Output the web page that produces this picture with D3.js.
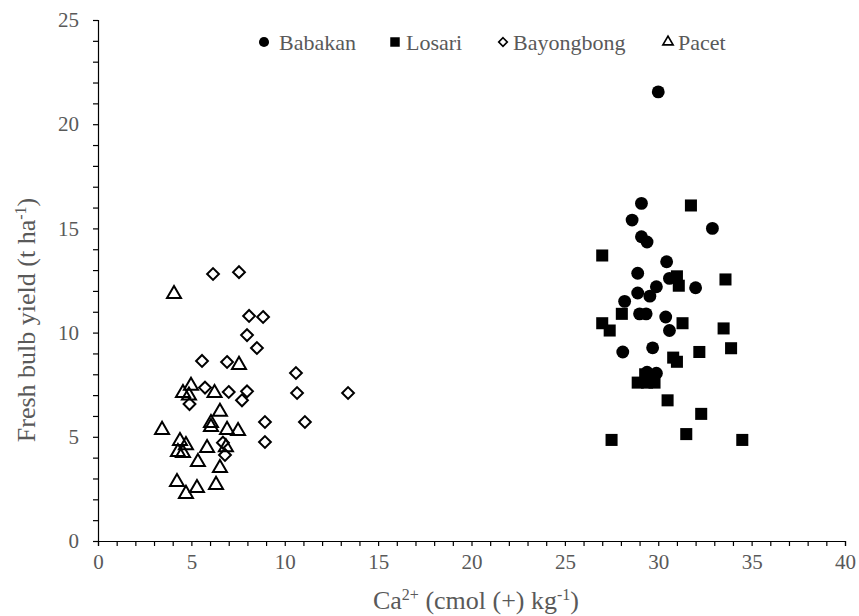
<!DOCTYPE html>
<html>
<head>
<meta charset="utf-8">
<script src="https://cdn.jsdelivr.net/npm/d3@7/dist/d3.min.js"></script>
<style>
  html, body { margin: 0; padding: 0; background: #fff; }
  svg { display: block; }
  svg text { font-family: "Liberation Serif", "Times New Roman", serif; }
</style>
</head>
<body>
<svg id="chart" width="859" height="616"></svg>
<script>
// Exchangeable calcium (cmol(+)/kg) vs fresh bulb yield (t/ha) by site
const babakanCa    = [30.0, 29.1, 28.6, 29.1, 29.4, 32.9, 30.45, 28.9, 30.6, 32.0, 29.9, 28.9, 29.55, 28.2, 29.0, 29.35, 30.4, 30.6, 28.1, 29.7, 29.4, 29.9, 29.6];
const babakanYield = [21.55, 16.2, 15.4, 14.6, 14.35, 15.0, 13.4, 12.85, 12.6, 12.15, 12.2, 11.9, 11.75, 11.5, 10.9, 10.9, 10.75, 10.1, 9.07, 9.27, 8.1, 8.05, 7.9];

const losariCa    = [27.0, 31.75, 31.0, 31.1, 33.6, 28.05, 27.0, 27.4, 31.3, 33.5, 33.9, 32.2, 30.8, 31.0, 28.9, 29.4, 29.8, 29.3, 30.5, 32.3, 31.5, 27.5, 34.5];
const losariYield = [13.7, 16.1, 12.7, 12.25, 12.55, 10.9, 10.45, 10.1, 10.45, 10.2, 9.25, 9.07, 8.8, 8.6, 7.6, 7.6, 7.6, 8.0, 6.75, 6.1, 5.13, 4.85, 4.85];

const bayongbongCa    = [6.16, 7.55, 8.09, 8.84, 7.98, 8.51, 5.57, 6.91, 10.6, 5.73, 7.0, 7.98, 7.71, 4.9, 10.66, 13.39, 8.94, 11.08, 8.94, 6.69, 6.8];
const bayongbongYield = [12.81, 12.9, 10.8, 10.75, 9.88, 9.26, 8.64, 8.59, 8.06, 7.36, 7.15, 7.18, 6.75, 6.57, 7.1, 7.1, 5.71, 5.71, 4.75, 4.72, 4.13];

const pacetCa    = [4.07, 7.55, 4.98, 4.55, 4.87, 6.24, 6.53, 6.05, 6.05, 3.43, 6.91, 7.5, 4.39, 4.71, 4.28, 4.55, 5.84, 6.85, 5.35, 6.53, 4.23, 6.32, 5.3, 4.71];
const pacetYield = [11.85, 8.45, 7.45, 7.1, 6.98, 7.1, 6.2, 5.66, 5.47, 5.33, 5.33, 5.28, 4.8, 4.6, 4.27, 4.22, 4.46, 4.5, 3.79, 3.5, 2.83, 2.69, 2.54, 2.26];

const siteNames = ["Babakan", "Losari", "Bayongbong", "Pacet"];
const xMajorTicks = [0, 5, 10, 15, 20, 25, 30, 35, 40];
const yMajorTicks = [0, 5, 10, 15, 20, 25];

// Open diamond drawn as a square turned 45 degrees
const symbolRhombus = {
  draw(ctx, size) {
    const r = Math.sqrt(size / 2);
    ctx.moveTo(0, -r); ctx.lineTo(r, 0); ctx.lineTo(0, r); ctx.lineTo(-r, 0); ctx.closePath();
  }
};

const series = [
  { name: siteNames[0], ca: babakanCa, y: babakanYield, symbol: d3.symbolCircle, filled: true, size: 130, lsize: 80 },
  { name: siteNames[1], ca: losariCa, y: losariYield, symbol: d3.symbolSquare, filled: true, size: 145, lsize: 90 },
  { name: siteNames[2], ca: bayongbongCa, y: bayongbongYield, symbol: symbolRhombus, filled: false, size: 70, lsize: 36 },
  { name: siteNames[3], ca: pacetCa, y: pacetYield, symbol: d3.symbolTriangle, filled: false, size: 85, lsize: 45 }
];

const svg = d3.select("#chart");
const textColor = "#595959";
const serif = "'Liberation Serif', 'Times New Roman', serif";

const x = d3.scaleLinear().domain([0, 40]).range([98, 845]);
const y = d3.scaleLinear().domain([0, 25]).range([541, 20]);

// Axes: minor ticks every unit, labels on the multiples of five
const xAxis = d3.axisBottom(x)
  .tickValues(d3.range(0, 41, 1))
  .tickSize(5)
  .tickPadding(8)
  .tickFormat(d => xMajorTicks.includes(d) ? d : "");
const yAxis = d3.axisLeft(y)
  .tickValues(d3.range(0, 26, 1))
  .tickSize(5)
  .tickPadding(14)
  .tickFormat(d => yMajorTicks.includes(d) ? d : "");

const gx = svg.append("g").attr("transform", `translate(0,${y(0)})`).call(xAxis);
const gy = svg.append("g").attr("transform", `translate(${x(0)},0)`).call(yAxis);

[gx, gy].forEach(g => {
  g.attr("font-family", serif).attr("font-size", 21);
  g.select(".domain").attr("stroke", "#000").attr("stroke-width", 1.2);
  g.selectAll(".tick line").attr("stroke", "#000").attr("stroke-width", 1.2);
  g.selectAll(".tick text").attr("fill", textColor);
});

// Axis titles
const xTitle = svg.append("text")
  .attr("x", 476).attr("y", 609)
  .attr("text-anchor", "middle")
  .attr("fill", textColor)
  .attr("font-family", serif)
  .attr("font-size", 26);
xTitle.append("tspan").text("Ca");
xTitle.append("tspan").attr("dy", -9).attr("font-size", 16).text("2+");
xTitle.append("tspan").attr("dy", 9).text(" (cmol (+) kg");
xTitle.append("tspan").attr("dy", -9).attr("font-size", 16).text("-1");
xTitle.append("tspan").attr("dy", 9).text(")");

const yTitle = svg.append("text")
  .attr("transform", "translate(35,320) rotate(-90)")
  .attr("text-anchor", "middle")
  .attr("fill", textColor)
  .attr("font-family", serif)
  .attr("font-size", 26);
yTitle.append("tspan").text("Fresh bulb yield (t ha");
yTitle.append("tspan").attr("dy", -9).attr("font-size", 16).text("-1");
yTitle.append("tspan").attr("dy", 9).text(")");

// Points
series.forEach(s => {
  const pts = s.ca.map((c, i) => ({ c, v: s.y[i] }));
  svg.append("g").selectAll("path")
    .data(pts)
    .join("path")
    .attr("transform", d => `translate(${x(d.c)},${y(d.v)})`)
    .attr("d", d3.symbol().type(s.symbol).size(s.size))
    .attr("fill", s.filled ? "#000" : "none")
    .attr("stroke", "#000")
    .attr("stroke-width", s.filled ? 0 : 2);
});

// Legend
const legendPos = [
  { mx: 264, tx: 279 },
  { mx: 395, tx: 406 },
  { mx: 503, tx: 513 },
  { mx: 668, tx: 678 }
];
const legend = svg.append("g");
series.forEach((s, i) => {
  const p = legendPos[i];
  legend.append("path")
    .attr("transform", `translate(${p.mx},42)`)
    .attr("d", d3.symbol().type(s.symbol).size(s.lsize))
    .attr("fill", s.filled ? "#000" : "none")
    .attr("stroke", "#000")
    .attr("stroke-width", s.filled ? 0 : 1.7);
  legend.append("text")
    .attr("x", p.tx).attr("y", 50)
    .attr("fill", textColor)
    .attr("font-family", serif)
    .attr("font-size", 22)
    .text(s.name);
});
</script>
</body>
</html>
